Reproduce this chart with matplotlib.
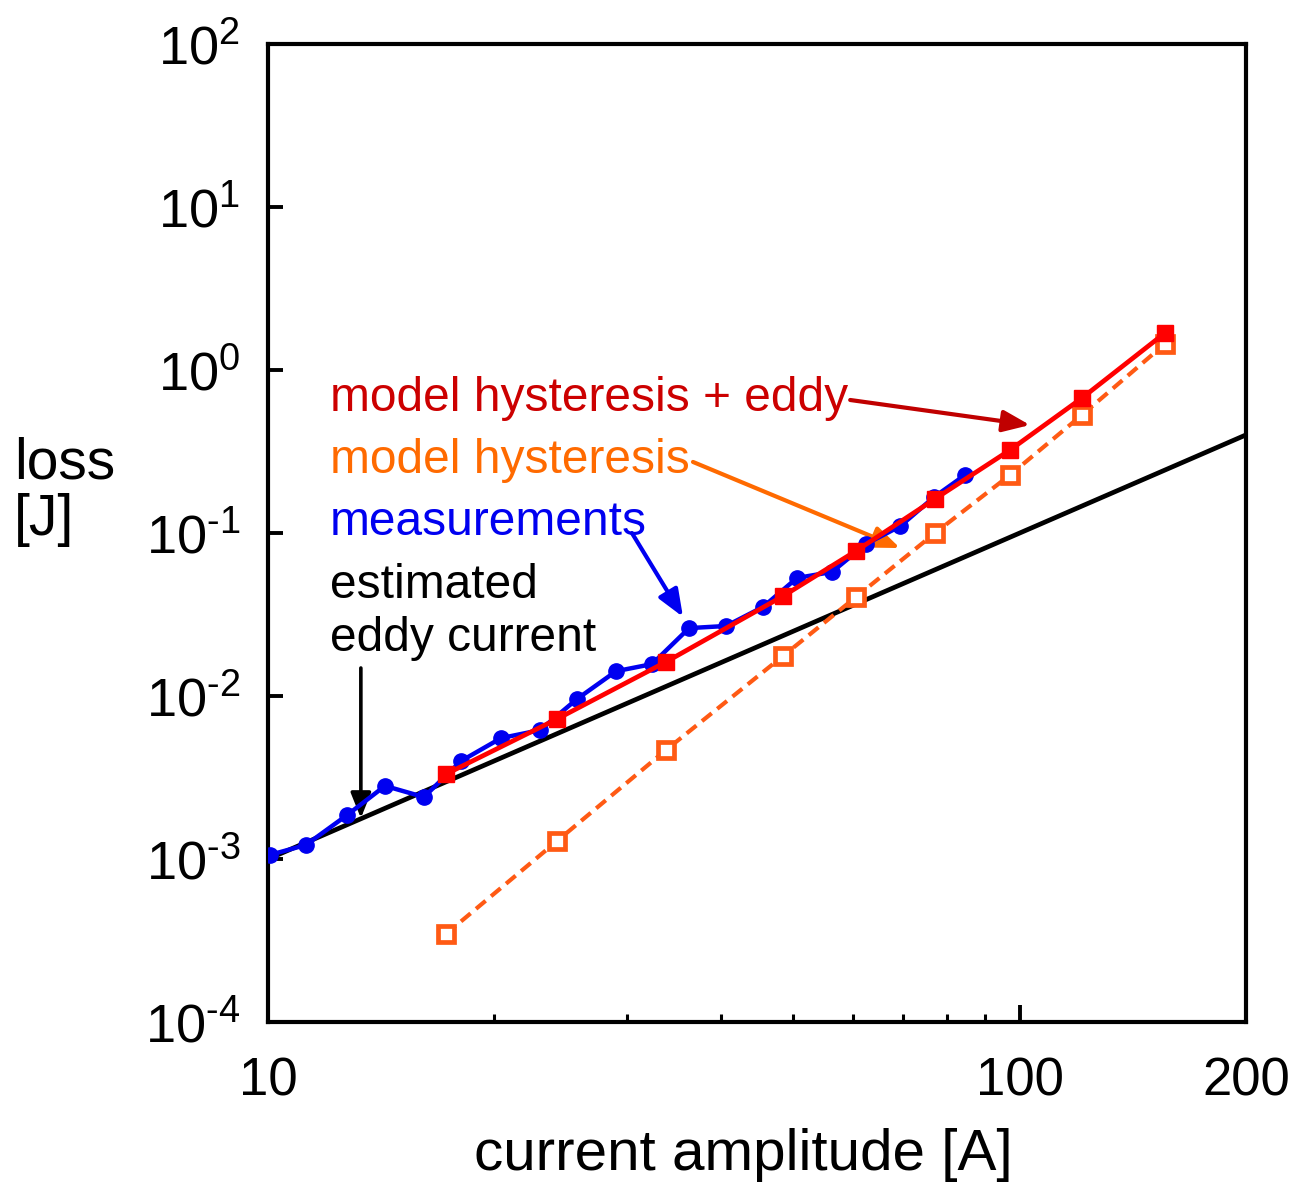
import matplotlib
matplotlib.use("Agg")
import matplotlib.pyplot as plt
from matplotlib.ticker import FixedLocator, NullFormatter, NullLocator

plt.rcParams['font.family'] = ['Liberation Sans', 'DejaVu Sans']
plt.rcParams['mathtext.fontset'] = 'custom'
plt.rcParams['mathtext.rm'] = 'Liberation Sans'
plt.rcParams['mathtext.default'] = 'regular'

# measured loss
meas_current = [10.06, 11.23, 12.74, 14.31, 16.12, 18.06, 20.42, 23.01, 25.77, 29.04,
                32.43, 36.32, 40.68, 45.56, 50.55, 56.27, 62.46, 69.32, 76.91, 84.58]
meas_loss = [1.06e-3, 1.22e-3, 1.86e-3, 2.81e-3, 2.40e-3, 3.99e-3, 5.52e-3, 6.18e-3, 9.59e-3, 1.42e-2,
             1.57e-2, 2.61e-2, 2.69e-2, 3.52e-2, 5.30e-2, 5.77e-2, 8.57e-2, 0.110, 0.166, 0.227]

# model values
model_current = [17.25, 24.24, 33.85, 48.43, 60.56, 77.16, 97.07, 121.0, 156.1]
model_total = [3.32e-3, 7.23e-3, 1.62e-2, 4.10e-2, 7.76e-2, 0.162, 0.323, 0.673, 1.69]
model_hyst = [3.47e-4, 1.29e-3, 4.67e-3, 1.76e-2, 4.05e-2, 0.100, 0.227, 0.530, 1.45]

# estimated eddy-current loss (straight line in log-log)
eddy_current = [10, 200]
eddy_loss = [1.0e-3, 0.40]

y_ticks = [1e-4, 1e-3, 1e-2, 1e-1, 1e0, 1e1, 1e2]
y_tick_labels = [r'$10^{\text{-}4}$', r'$10^{\text{-}3}$', r'$10^{\text{-}2}$',
                 r'$10^{\text{-}1}$', r'$10^{0}$', r'$10^{1}$', r'$10^{2}$']
x_ticks = [10, 100, 200]
x_tick_labels = ['10', '100', '200']
x_minor = [20, 30, 40, 50, 60, 70, 80, 90]

fig = plt.figure(figsize=(13.01, 11.84), dpi=100)
ax = fig.add_axes([0.206, 0.1368, 0.7517, 0.826])
ax.set_xscale('log')
ax.set_yscale('log')
ax.set_xlim(10, 200)
ax.set_ylim(1e-4, 1e2)

ax.plot(eddy_current, eddy_loss, color='black', lw=3.4, zorder=2)
ax.plot(model_current, model_hyst, color='#ff5a14', lw=3.0, ls=(0, (3.0, 1.7)),
        marker='s', ms=12, mfc='white', mec='#ff5a14', mew=3.4, zorder=3)
ax.plot(meas_current, meas_loss, color='#0000f0', lw=3.2, marker='o', ms=11,
        zorder=4)
ax.plot(model_current, model_total, color='#ff0000', lw=3.4, marker='s', ms=12,
        zorder=5)

ax.yaxis.set_major_locator(FixedLocator(y_ticks))
ax.set_yticklabels(y_tick_labels)
ax.yaxis.set_minor_locator(NullLocator())
ax.xaxis.set_major_locator(FixedLocator(x_ticks))
ax.set_xticklabels(x_tick_labels)
ax.xaxis.set_minor_locator(FixedLocator(x_minor))
ax.xaxis.set_minor_formatter(NullFormatter())

ax.tick_params(axis='y', which='major', direction='in', length=11, width=2.8,
               labelsize=39, pad=20)
ax.tick_params(axis='x', which='major', direction='in', length=12, width=2.8,
               labelsize=38, pad=25)
ax.tick_params(axis='x', which='minor', direction='in', length=6, width=2.2)
for s in ax.spines.values():
    s.set_linewidth(3.0)

ax.set_xlabel('current amplitude [A]', fontsize=42)
ax.xaxis.set_label_coords(0.486, -0.108)
fig.text(14 / 1301, 1 - 492 / 1184, 'loss\n[J]', fontsize=41, ha='left',
         va='center', linespacing=1.05)

# labels with arrows
ax.annotate('', xy=(103.2, 0.46), xytext=(59.5, 0.655),
            arrowprops=dict(arrowstyle='-|>,head_length=0.55,head_width=0.22',
                            color='#c00000', lw=3.0,
                            mutation_scale=30, shrinkA=0, shrinkB=0))
ax.text(12.09, 0.56, 'model hysteresis + eddy', color='#cc0000', fontsize=34.5,
        ha='left', va='baseline')

ax.annotate('', xy=(69.3, 0.0809), xytext=(36.76, 0.273),
            arrowprops=dict(arrowstyle='-|>,head_length=0.55,head_width=0.22',
                            color='#ff6a00', lw=3.0,
                            mutation_scale=30, shrinkA=0, shrinkB=0))
ax.text(12.09, 0.233, 'model hysteresis', color='#ff6a00', fontsize=34.5,
        ha='left', va='baseline')

ax.annotate('', xy=(35.65, 0.0306), xytext=(30.49, 0.1),
            arrowprops=dict(arrowstyle='-|>,head_length=0.55,head_width=0.22',
                            color='#0000f0', lw=3.0,
                            mutation_scale=30, shrinkA=0, shrinkB=0))
ax.text(12.09, 0.0973, 'measurements', color='#0000f0', fontsize=34.5,
        ha='left', va='baseline')

ax.annotate('', xy=(13.29, 1.78e-3), xytext=(13.29, 1.486e-2),
            arrowprops=dict(arrowstyle='-|>,head_length=0.55,head_width=0.22',
                            color='black', lw=2.6,
                            mutation_scale=28, shrinkA=0, shrinkB=0))
ax.text(12.09, 0.0399, 'estimated', color='black', fontsize=34.5,
        ha='left', va='baseline')
ax.text(12.09, 0.0189, 'eddy current', color='black', fontsize=34.5,
        ha='left', va='baseline')

fig.savefig('out.png', dpi=100)
